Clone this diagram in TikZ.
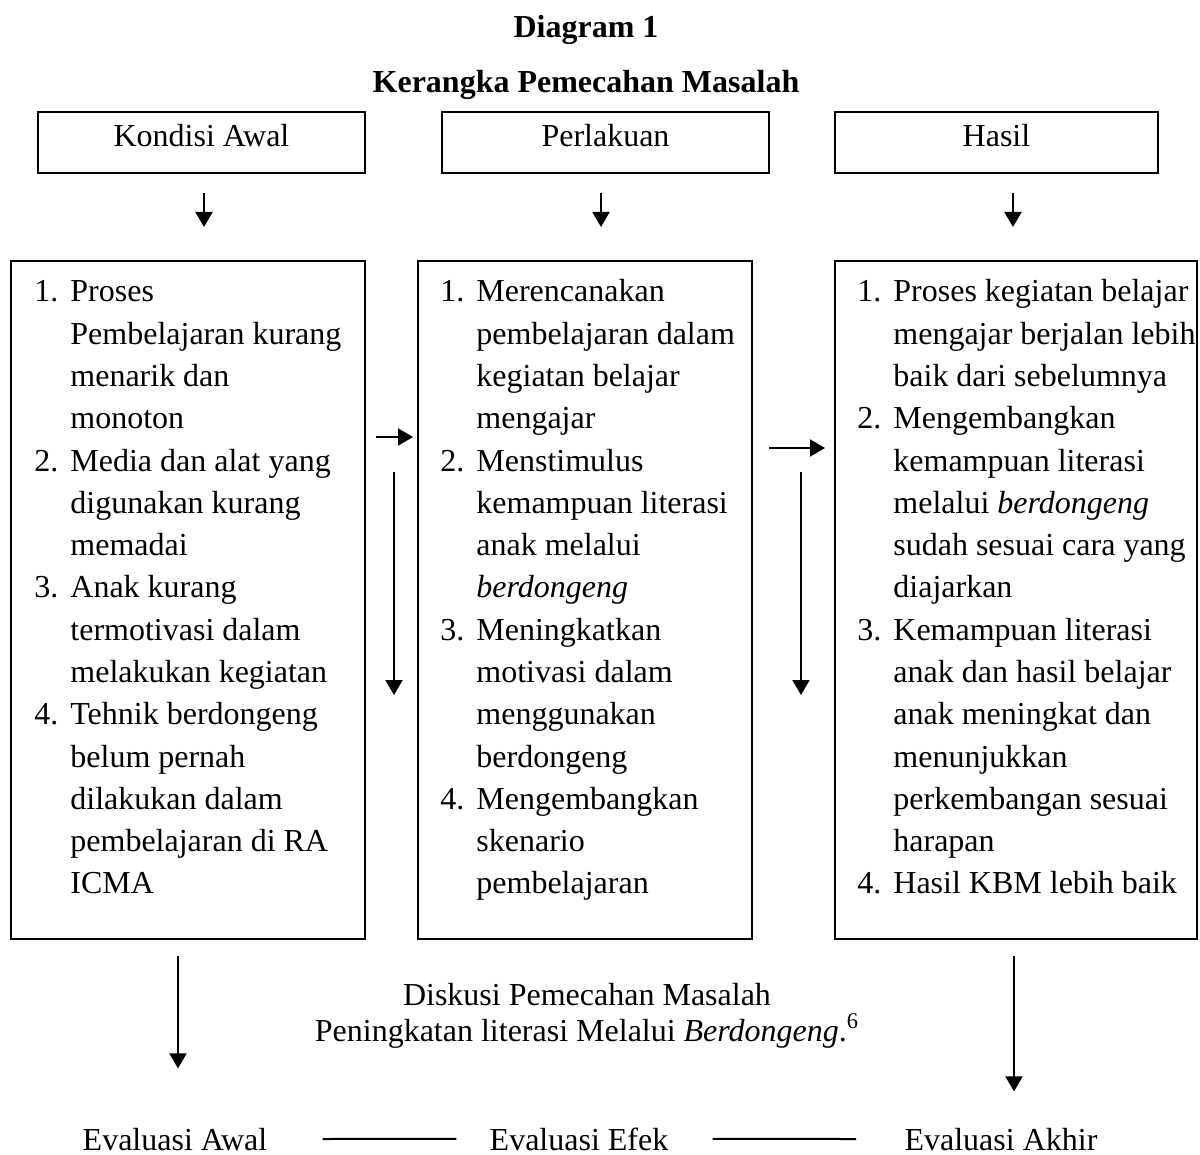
\documentclass[tikz,border=0pt]{standalone}
\usepackage{fontspec}
\setmainfont{Liberation Serif}
\usetikzlibrary{arrows.meta,calc}

\newcommand{\nomor}[1]{\makebox[18pt][l]{#1}}

\begin{document}
\begin{tikzpicture}[x=0.5pt,y=-0.5pt,
        font=\fontsize{16}{21.14}\selectfont,
        kotak/.style={draw,line width=1pt,inner sep=0pt},
        panah/.style={-{Triangle[length=7.5pt,width=8.5pt]},line width=1pt},
        daftar/.style={anchor=base west,inner sep=0pt}]
    \useasboundingbox (0,0) rectangle (1200,1155);

    \node[anchor=base,font=\fontsize{16}{21.14}\selectfont\bfseries] (judul) at (586,38) {Diagram 1};
    \node[anchor=base,font=\fontsize{16}{21.14}\selectfont\bfseries] (subjudul) at (586,93) {Kerangka Pemecahan Masalah};

    \node[kotak,minimum width=163.5pt,minimum height=30.5pt,text height=11pt,text depth=7pt] (kondisiAwal) at (201.5,142.5) {Kondisi Awal};
    \node[kotak,minimum width=163.5pt,minimum height=30.5pt,text height=11pt,text depth=7pt] (perlakuan) at (605.5,142.5) {Perlakuan};
    \node[kotak,minimum width=161.5pt,minimum height=30.5pt,text height=11pt,text depth=7pt] (hasil) at (996.5,142.5) {Hasil};

    \node[kotak,minimum width=177pt,minimum height=339pt] (kotakKondisi) at (188,600) {};
    \node[kotak,minimum width=167pt,minimum height=339pt] (kotakPerlakuan) at (585,600) {};
    \node[kotak,minimum width=181pt,minimum height=339pt] (kotakHasil) at (1016,600) {};

    \draw[panah,shorten <=9.5pt,shorten >=16.5pt] ([xshift=1.25pt]kondisiAwal.south) -- ([xshift=1.25pt]kondisiAwal.south |- kotakKondisi.north);
    \draw[panah,shorten <=9.5pt,shorten >=16.5pt] ([xshift=-2.25pt]perlakuan.south) -- ([xshift=-2.25pt]perlakuan.south |- kotakPerlakuan.north);
    \draw[panah,shorten <=9.5pt,shorten >=16.5pt] ([xshift=8.25pt]hasil.south) -- ([xshift=8.25pt]hasil.south |- kotakHasil.north);

    \node[daftar] (isiKondisi) at (34,302) {\begin{tabular}[t]{@{}l@{}l@{}}
        \nomor{1.} & Proses\\
        & Pembelajaran kurang\\
        & menarik dan\\
        & monoton\\
        \nomor{2.} & Media dan alat yang\\
        & digunakan kurang\\
        & memadai\\
        \nomor{3.} & Anak kurang\\
        & termotivasi dalam\\
        & melakukan kegiatan\\
        \nomor{4.} & Tehnik berdongeng\\
        & belum pernah\\
        & dilakukan dalam\\
        & pembelajaran di RA\\
        & ICMA
    \end{tabular}};
    \node[daftar] (isiPerlakuan) at (440,302) {\begin{tabular}[t]{@{}l@{}l@{}}
        \nomor{1.} & Merencanakan\\
        & pembelajaran dalam\\
        & kegiatan belajar\\
        & mengajar\\
        \nomor{2.} & Menstimulus\\
        & kemampuan literasi\\
        & anak melalui\\
        & \textit{berdongeng}\\
        \nomor{3.} & Meningkatkan\\
        & motivasi dalam\\
        & menggunakan\\
        & berdongeng\\
        \nomor{4.} & Mengembangkan\\
        & skenario\\
        & pembelajaran
    \end{tabular}};
    \node[daftar] (isiHasil) at (857,302) {\begin{tabular}[t]{@{}l@{}l@{}}
        \nomor{1.} & Proses kegiatan belajar\\
        & mengajar berjalan lebih\\
        & baik dari sebelumnya\\
        \nomor{2.} & Mengembangkan\\
        & kemampuan literasi\\
        & melalui \textit{berdongeng}\\
        & sudah sesuai cara yang\\
        & diajarkan\\
        \nomor{3.} & Kemampuan literasi\\
        & anak dan hasil belajar\\
        & anak meningkat dan\\
        & menunjukkan\\
        & perkembangan sesuai\\
        & harapan\\
        \nomor{4.} & Hasil KBM lebih baik
    \end{tabular}};

    \draw[panah,shorten <=5pt,shorten >=2pt] (kotakKondisi.east |- 0,437) -- (kotakPerlakuan.west |- 0,437);
    \draw[panah,shorten <=8pt,shorten >=4.5pt] (kotakPerlakuan.east |- 0,448) -- (kotakHasil.west |- 0,448);
    \coordinate (turunKiri) at (394,472);
    \coordinate (turunKanan) at (801,472);
    \draw[panah] (turunKiri) -- ++(0,223);
    \draw[panah] (turunKanan) -- ++(0,223);

    \node[anchor=base] (diskusi) at (587,1005) {Diskusi Pemecahan Masalah};
    \node[anchor=base] (peningkatan) at (587,1041) {Peningkatan literasi Melalui \textit{Berdongeng}.\textsuperscript{6}};

    \node[anchor=base,inner sep=0pt] (evalAwal) at (175,1150) {Evaluasi Awal};
    \node[anchor=base,inner sep=0pt] (evalEfek) at (579,1150) {Evaluasi Efek};
    \node[anchor=base,inner sep=0pt] (evalAkhir) at (1001,1150) {Evaluasi Akhir};

    \draw[panah,shorten <=8pt,shorten >=29.5pt] ([xshift=-5pt]kotakKondisi.south) -- ([xshift=-5pt]kotakKondisi.south |- evalAwal.north);
    \draw[panah,shorten <=8pt,shorten >=18pt] ([xshift=-1pt]kotakHasil.south) -- ([xshift=-1pt]kotakHasil.south |- evalAkhir.north);

    \draw[line width=1pt,shorten <=27.5pt,shorten >=16.5pt] (evalAwal) -- (evalEfek);
    \draw[line width=1pt,shorten <=22pt,shorten >=24pt] (evalEfek) -- (evalAkhir);
\end{tikzpicture}
\end{document}
